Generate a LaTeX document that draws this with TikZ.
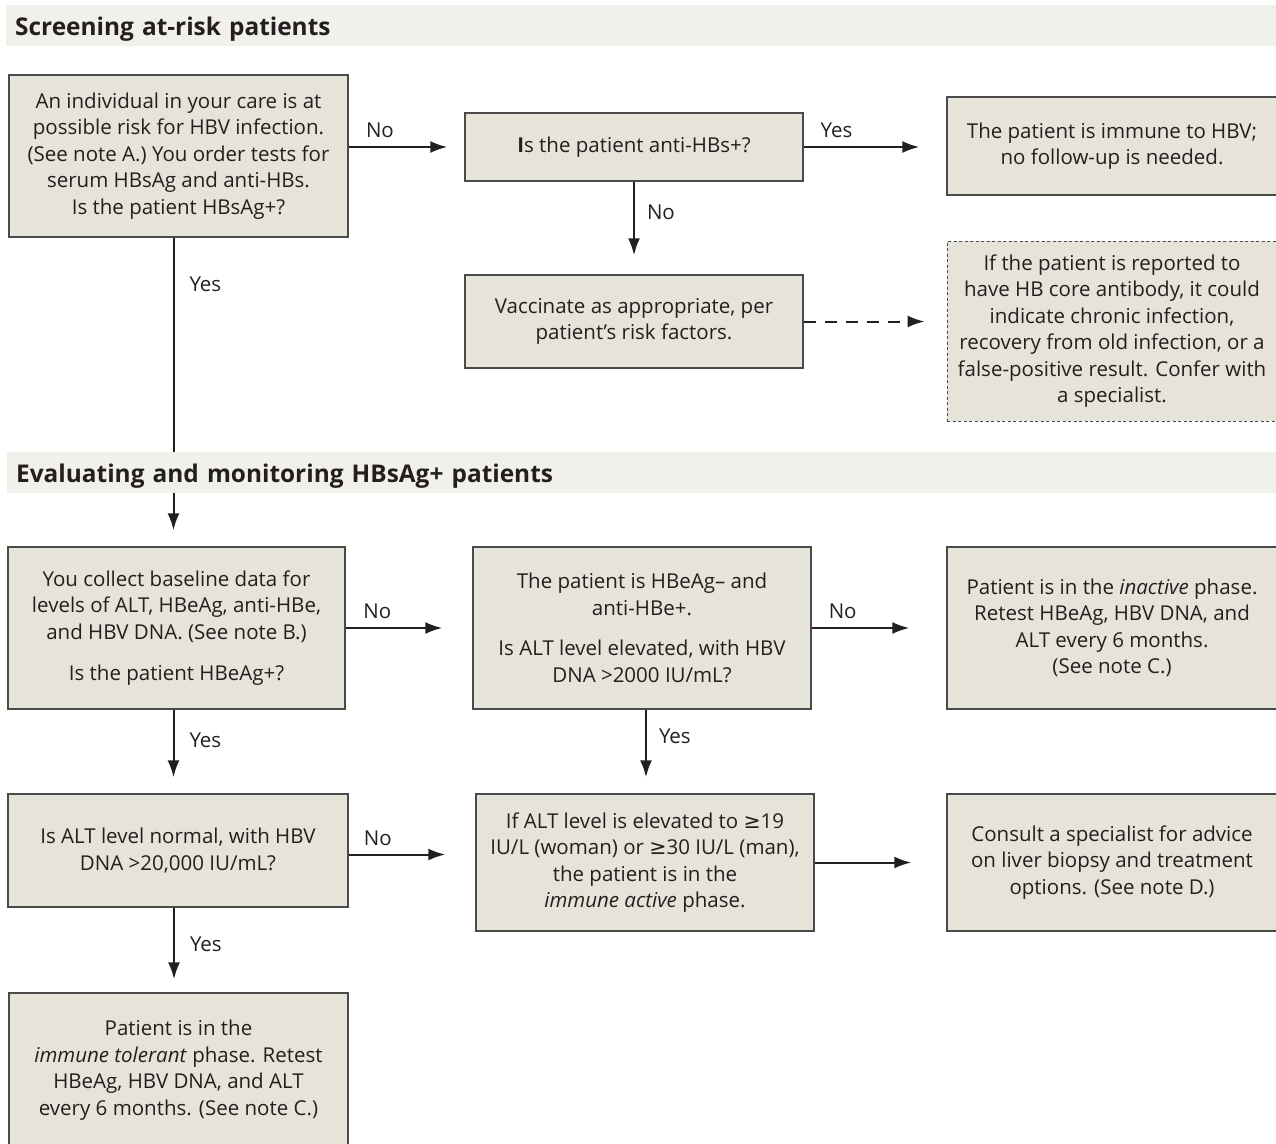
\documentclass[tikz,border=0pt]{standalone}
\usepackage{fontspec}
\setmainfont{Open Sans}
\newfontfamily\symfont{DejaVu Sans}
\usetikzlibrary{arrows.meta}

\definecolor{barfill}{HTML}{F1F0EA}
\definecolor{boxfill}{HTML}{E6E3D9}
\definecolor{boxline}{HTML}{4A4A4A}
\definecolor{ink}{HTML}{231F20}

\newcommand{\gesym}{{\symfont ≥}}

\tikzset{
  box/.style={draw=boxline, line width=1.5pt, fill=boxfill, align=center,
    text=ink, inner sep=0pt, font=\fontsize{20.5}{26.5}\selectfont},
  notebox/.style={box, line width=1pt, dash pattern=on 3pt off 2.5pt},
  hdr/.style={fill=barfill, anchor=west, align=left, text=ink,
    minimum height=41pt, inner xsep=9pt, inner ysep=0pt,
    text height=22pt, text depth=2pt,
    font=\bfseries\fontsize{24.4}{26}\selectfont},
  arr/.style={-{Latex[length=17pt,width=12pt]}, line width=2pt, draw=ink},
  lbl/.style={text=ink, inner sep=0pt, font=\fontsize{20.5}{22}\selectfont}
}

\begin{document}
\begin{tikzpicture}[x=1pt, y=-1pt]
  \useasboundingbox (0,0) rectangle (1276,1143);

  % screening
  \node[hdr, text width=1252pt] (hdrscreen) at (6,25.5) {Screening at-risk patients};
  \node[box, minimum width=339pt, minimum height=162pt] (risk) at (178.5,156)
    {An individual in your care is at\\ possible risk for HBV infection.\\
     (See note A.) You order tests for\\ serum HBsAg and anti-HBs.\\ Is the patient HBsAg+?};
  \node[box, minimum width=338pt, minimum height=68pt] (antihbs) at (634,147)
    {\textbf{I}s the patient anti-HBs+?};
  \node[box, minimum width=330pt, minimum height=98pt] (immune) at (1112,146)
    {The patient is immune to HBV;\\ no follow-up is needed.};
  \node[box, minimum width=338pt, minimum height=93pt] (vacc) at (634,321.5)
    {Vaccinate as appropriate, per\\ patient’s risk factors.};
  \node[notebox, minimum width=330pt, minimum height=180pt] (core) at (1112,331)
    {If the patient is reported to\\ have HB core antibody, it could\\ indicate chronic infection,\\
     recovery from old infection, or a\\ false-positive result. Confer with\\ a specialist.};

  % evaluating
  \node[box, minimum width=337pt, minimum height=162pt] (baseline) at (176.5,628)
    {You collect baseline data for\\ levels of ALT, HBeAg, anti-HBe,\\
     and HBV DNA. (See note B.)\\[15pt] Is the patient HBeAg+?};
  \node[box, minimum width=338pt, minimum height=162pt] (hbeneg) at (642,628)
    {The patient is HBeAg– and\\ anti-HBe+.\\[14pt] Is ALT level elevated, with HBV\\ DNA >2000 IU/mL?};
  \node[box, minimum width=330pt, minimum height=162pt] (inactive) at (1112,628)
    {Patient is in the \textit{inactive} phase.\\ Retest HBeAg, HBV DNA, and\\
     ALT every 6 months.\\ (See note C.)};
  \node[box, minimum width=340pt, minimum height=113pt] (altnorm) at (178,850.5)
    {Is ALT level normal, with HBV\\ DNA >20,000 IU/mL?};
  \node[box, minimum width=338pt, minimum height=137pt] (active) at (645,862.5)
    {If ALT level is elevated to \gesym19\\ IU/L (woman) or \gesym30 IU/L (man),\\
     the patient is in the\\ \textit{immune active} phase.};
  \node[box, minimum width=330pt, minimum height=137pt] (consult) at (1112,862.5)
    {Consult a specialist for advice\\ on liver biopsy and treatment\\ options. (See note D.)};
  \node[box, minimum width=339pt, minimum height=154pt] (tolerant) at (178.5,1070)
    {Patient is in the\\ \textit{immune tolerant} phase. Retest\\
     HBeAg, HBV DNA, and ALT\\ every 6 months. (See note C.)};

  \begin{scope}[arr]
    \draw[shorten >=17pt] (risk.east |- antihbs.west) -- node[lbl, pos=0.27, above=8pt] (noone) {No} (antihbs.west);
    \draw[shorten >=27pt] (antihbs.east) -- node[lbl, pos=0.23, above=8pt] (yesone) {Yes} (antihbs.east -| immune.west);
    \draw[shorten >=19pt] (antihbs.south) -- node[lbl, pos=0.33, right=12pt] (notwo) {No} (vacc.north);
    \draw[dash pattern=on 12pt off 9pt, shorten >=22pt] (vacc.east) -- (vacc.east -| core.west);
    \draw[shorten >=16pt] ([xshift=-3pt]baseline.north |- risk.south) -- node[lbl, pos=0.15, right=15pt] (yestwo) {Yes} ([xshift=-3pt]baseline.north);
    \draw[shorten >=30pt] (baseline.east) -- node[lbl, pos=0.25, above=8pt] (nothree) {No} (baseline.east -| hbeneg.west);
    \draw[shorten >=37pt] (hbeneg.east) -- node[lbl, pos=0.23, above=8pt] (nofour) {No} (inactive.west);
    \draw[shorten >=16pt] ([xshift=-3pt]baseline.south) -- node[lbl, pos=0.36, right=15pt] (yesthree) {Yes} ([xshift=-3pt]baseline.south |- altnorm.north);
    \draw[shorten >=16pt] ([xshift=4pt]hbeneg.south) -- node[lbl, pos=0.32, right=12pt] (yesfour) {Yes} ([xshift=4pt]hbeneg.south |- active.north);
    \draw[shorten >=30pt] ([yshift=-4pt]altnorm.east) -- node[lbl, pos=0.23, above=8pt] (nofive) {No} ([yshift=-4pt]altnorm.east -| active.west);
    \draw[shorten >=35pt] (active.east) -- (consult.west);
    \draw[shorten >=13pt] ([xshift=-4pt]altnorm.south) -- node[lbl, pos=0.43, right=15pt] (yesfive) {Yes} ([xshift=-4pt]altnorm.south |- tolerant.north);
  \end{scope}

  \node[hdr, text width=1251pt] (hdreval) at (7,472) {Evaluating and monitoring HBsAg+ patients};
\end{tikzpicture}
\end{document}
